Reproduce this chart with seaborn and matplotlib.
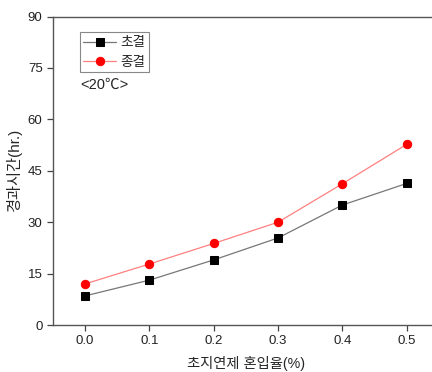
import numpy as np
import pandas as pd
import seaborn as sns
from matplotlib import pyplot as plt

ratio = [0.0, 0.1, 0.2, 0.3, 0.4, 0.5]
initial_set = [8.5, 13.1, 19.0, 25.4, 35.0, 41.3]   # 초결
final_set = [12.0, 17.8, 23.8, 30.0, 41.2, 52.7]    # 종결
yticks = [0, 15, 30, 45, 60, 75, 90]
xticks = [0.0, 0.1, 0.2, 0.3, 0.4, 0.5]

sns.set_style("ticks")
plt.rcParams['font.family'] = ['Liberation Sans', 'Noto Sans CJK KR', 'DejaVu Sans']
plt.rcParams['axes.unicode_minus'] = False

my_dpi = 100
fig = plt.figure(figsize=(432 / my_dpi, 372 / my_dpi), dpi=my_dpi)
ax = fig.add_axes([0.1227, 0.1263, 0.893, 0.8293])

df = pd.DataFrame({'ratio': ratio, 'init': initial_set, 'final': final_set})
sns.lineplot(data=df, x='ratio', y='init', ax=ax, color='#777777', lw=0.9,
             marker='s', markersize=5.5, markerfacecolor='black',
             markeredgecolor='black', label='초결')
sns.lineplot(data=df, x='ratio', y='final', ax=ax, color='#ff8080', lw=0.9,
             marker='o', markersize=6, markerfacecolor='red',
             markeredgecolor='red', label='종결')

ax.set_xlim(-0.05, 0.55)
ax.set_ylim(0, 90)
ax.set_xticks(xticks)
ax.set_xticklabels([f"{v:.1f}" for v in xticks])
ax.set_yticks(yticks)
ax.tick_params(direction='out', length=4, width=0.9, colors='#444444',
               labelcolor='#222222', labelsize=9.5)
for s in ax.spines.values():
    s.set_color('#555555')
    s.set_linewidth(1.0)
ax.set_xlabel('초지연제 혼입율(%)', fontsize=10.3, labelpad=6)
ax.set_ylabel('경과시간(hr.)', fontsize=11, labelpad=4)

leg = ax.legend(loc='upper left', bbox_to_anchor=(0.07, 0.95), fontsize=9.8,
                frameon=True, fancybox=False, framealpha=1, edgecolor='#888888',
                handlelength=2.4, borderpad=0.25, handletextpad=0.3,
                labelspacing=0.4, borderaxespad=0)
leg._legend_box.sep = 0
leg.get_frame().set_linewidth(0.8)
ax.text(0.07, 0.778, '<20℃>', transform=ax.transAxes, fontsize=10.5,
        va='center', ha='left')

plt.savefig('out.png', dpi=my_dpi)
